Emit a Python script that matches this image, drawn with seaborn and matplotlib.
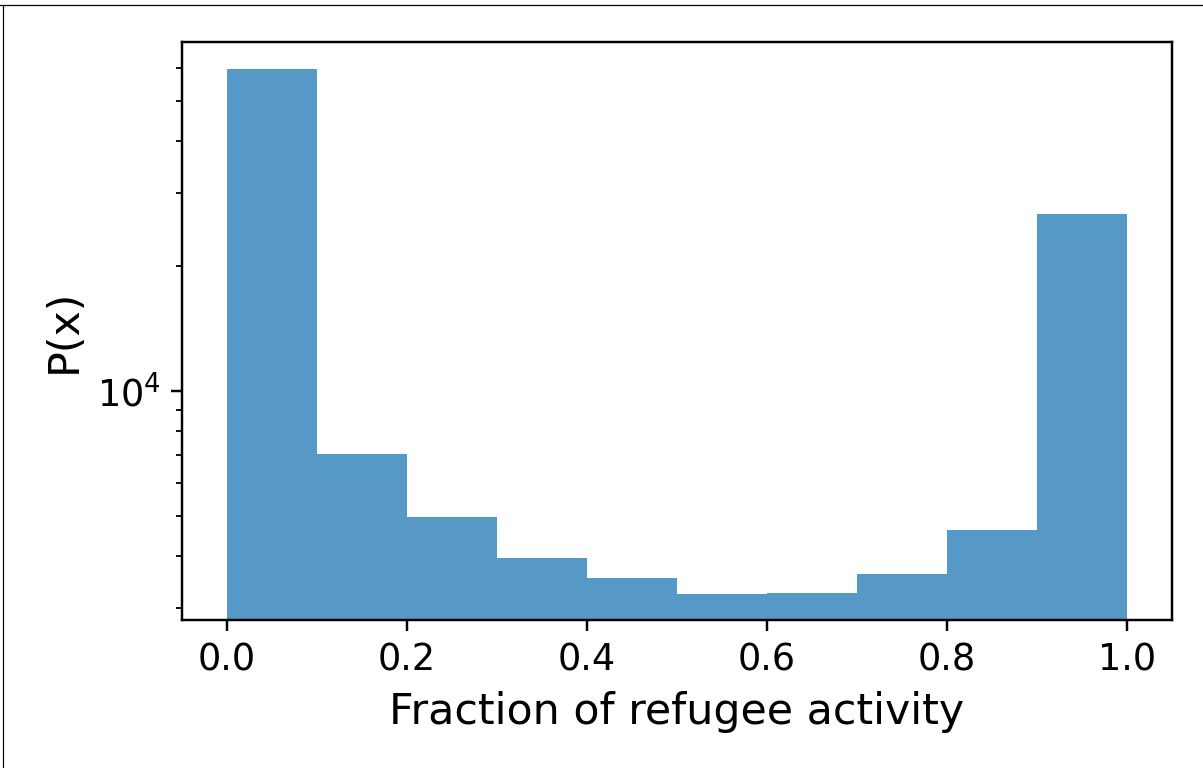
import numpy as np
import matplotlib
matplotlib.use("Agg")
import matplotlib.pyplot as plt
import seaborn as sns
from matplotlib.lines import Line2D

bin_edges = [0.0, 0.1, 0.2, 0.3, 0.4, 0.5, 0.6, 0.7, 0.8, 0.9, 1.0]
counts = [59700, 7050, 4970, 3960, 3540, 3240, 3260, 3620, 4620, 26700]
x_label = "Fraction of refugee activity"
y_label = "P(x)"

centers = [(a + b) / 2 for a, b in zip(bin_edges[:-1], bin_edges[1:])]

DPI = 220
fig = plt.figure(figsize=(1203 / DPI, 768 / DPI), dpi=DPI)
ax = fig.add_axes([182 / 1203, 1 - 620 / 768, (1172 - 182) / 1203, (620 - 42) / 768])

sns.histplot(x=centers, weights=counts, bins=bin_edges, ax=ax,
             color="#1f77b4", alpha=0.75, linewidth=0, stat="count")
ax.set_yscale("log")
ax.set_ylim(2807, 69300)
ax.set_xlim(-0.05, 1.05)
ax.set_xticks([0.0, 0.2, 0.4, 0.6, 0.8, 1.0])
ax.tick_params(axis="both", which="major", labelsize=12)
ax.set_xlabel(x_label, fontsize=14)
ax.set_ylabel(y_label, fontsize=14)

fig.add_artist(Line2D([0, 1], [1 - 5 / 768, 1 - 5 / 768], transform=fig.transFigure,
                      color="black", linewidth=0.4))
fig.add_artist(Line2D([3 / 1203, 3 / 1203], [0, 1 - 5 / 768], transform=fig.transFigure,
                      color="black", linewidth=0.4))

fig.savefig("out.png", dpi=DPI)
